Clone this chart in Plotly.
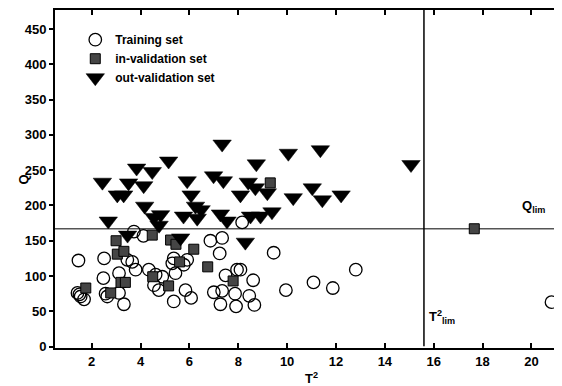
import plotly.graph_objects as go

# Training set (T2, Q)
train_t2 = [1.46, 1.42, 1.50, 1.55, 1.69, 2.51, 2.48, 2.57, 2.64, 3.12, 3.12, 3.32, 3.46, 3.66,
            3.80, 3.73, 4.12, 4.34, 4.62, 4.89, 4.55, 4.75, 5.30, 5.36, 5.43, 5.77, 5.91, 5.36,
            5.84, 6.07, 6.86, 7.34, 7.24, 8.16, 9.45, 7.95, 8.09, 7.48, 8.61, 7.00, 7.34, 7.87,
            8.45, 7.27, 7.91, 8.66, 9.95, 11.08, 11.87, 12.81, 20.82]
train_q = [122, 76, 74, 71, 67, 125, 97, 75, 71, 104, 76, 60, 123, 120,
           109, 163, 157, 109, 102, 99, 87, 80, 118, 125, 104, 116, 123, 64,
           80, 69, 150, 154, 132, 176, 133, 109, 109, 101, 94, 77, 79, 75,
           72, 60, 57, 59, 80, 91, 83, 109, 63]

# In-validation set
inval_t2 = [1.76, 2.78, 3.20, 3.38, 3.00, 3.05, 3.32, 4.48, 5.23, 5.45, 5.60, 6.18, 6.75,
            4.50, 5.15, 7.79, 9.31, 17.66]
inval_q = [83, 76, 91, 91, 150, 131, 135, 158, 151, 145, 120, 138, 113,
           99, 86, 93, 232, 167]

# Out-validation set
outval_t2 = [2.44, 3.84, 4.48, 3.51, 3.05, 3.31, 4.13, 5.15, 4.17, 2.68, 4.55, 4.82, 4.76, 3.47,
             7.34, 8.74, 5.91, 6.99, 7.39, 8.41, 8.09, 8.70, 9.19, 6.07, 6.25, 6.48, 5.76, 6.32,
             7.27, 7.54, 8.50, 8.91, 9.38, 5.64, 8.29, 10.05, 11.36, 15.07, 10.25, 11.03, 11.44,
             12.21]
outval_q = [233, 253, 248, 232, 215, 215, 228, 263, 199, 178, 183, 187, 172, 158,
            287, 259, 235, 242, 235, 233, 215, 225, 218, 215, 199, 194, 185, 182,
            188, 178, 185, 185, 191, 154, 148, 274, 279, 258, 211, 225, 208,
            215]

Q_LIM = 167
T2_LIM = 15.6

x_ticks = [2, 4, 6, 8, 10, 12, 14, 16, 18, 20]
y_ticks = [0, 50, 100, 150, 200, 250, 300, 350, 400, 450]

FONT = "Liberation Sans, Arial, sans-serif"
BOLD13 = dict(family=FONT, size=13, color="black", weight="bold")

fig = go.Figure()
fig.add_trace(go.Scatter(
    x=train_t2, y=train_q, mode="markers", name="Training set",
    marker=dict(symbol="circle-open", size=12.5, color="black", line=dict(width=1.3, color="black")),
))
fig.add_trace(go.Scatter(
    x=inval_t2, y=inval_q, mode="markers", name="in-validation set",
    marker=dict(symbol="square", size=10, color="#454545", line=dict(width=1, color="black")),
))
fig.add_trace(go.Scatter(
    x=outval_t2, y=outval_q, mode="markers", name="out-validation set",
    marker=dict(symbol="triangle-down", size=16, color="black", line=dict(width=0.5, color="black")),
))

fig.add_shape(type="line", xref="paper", yref="y", x0=0, x1=1, y0=Q_LIM, y1=Q_LIM,
              line=dict(color="#555555", width=1.5), layer="below")
fig.add_shape(type="line", xref="x", yref="paper", x0=T2_LIM, x1=T2_LIM, y0=0.005, y1=1,
              line=dict(color="black", width=1.5), layer="below")

fig.add_annotation(x=20.1, y=198, text="Q<sub>lim</sub>", showarrow=False, font=BOLD13)
fig.add_annotation(x=16.35, y=42, text="T<sup>2</sup><sub>lim</sub>", showarrow=False, font=BOLD13)

# axis titles as annotations for precise placement
fig.add_annotation(xref="paper", yref="paper", x=0.505, y=-0.089, yanchor="middle",
                   text="T<sup>2</sup>", showarrow=False, font=BOLD13)
fig.add_annotation(xref="paper", yref="paper", x=-0.081, y=0.5, textangle=-90,
                   text="Q", showarrow=False, font=BOLD13)

# page body has an 8px margin: the figure is sized/offset to compensate
fig.update_layout(
    width=554, height=378,
    margin=dict(l=47, r=0, t=2, b=38, autoexpand=False),
    paper_bgcolor="white", plot_bgcolor="white",
    font=dict(family=FONT, size=13, color="black", weight="bold"),
    showlegend=True,
    legend=dict(x=0.04, y=0.955, xanchor="left", yanchor="top", bgcolor="rgba(0,0,0,0)",
                font=dict(family=FONT, size=12, color="black", weight="bold"),
                itemsizing="trace", tracegroupgap=0),
    xaxis=dict(range=[0.5, 21.25], tickvals=x_ticks, ticktext=[str(v) for v in x_ticks],
               showgrid=False, zeroline=False, showline=True, linecolor="black", linewidth=2,
               ticks="inside", ticklen=5, tickwidth=1.5, tickcolor="black", mirror="ticks",
               automargin=False, tickfont=BOLD13),
    yaxis=dict(range=[-2, 477], tickvals=y_ticks, ticktext=[str(v) for v in y_ticks],
               showgrid=False, zeroline=False, showline=True, linecolor="black", linewidth=2,
               ticks="outside", ticklen=4, tickwidth=1.5, tickcolor="black",
               automargin=False, tickfont=BOLD13),
)

fig.write_html("out.html")
